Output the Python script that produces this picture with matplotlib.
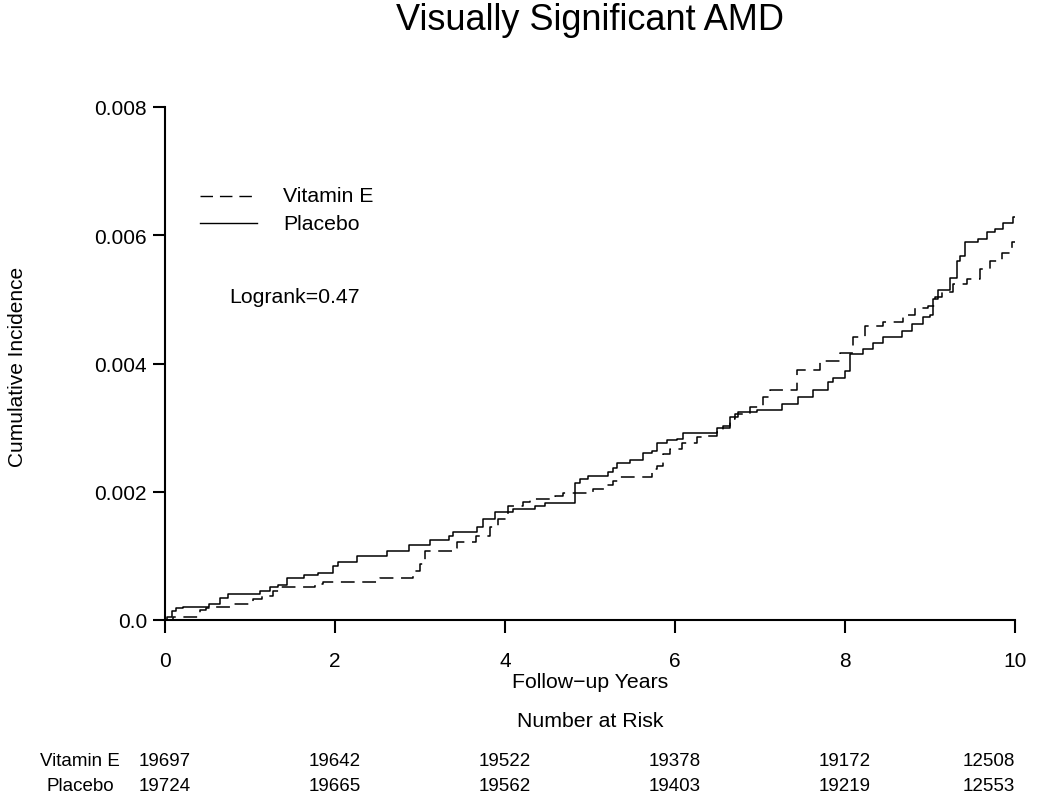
import matplotlib.pyplot as plt
import matplotlib.transforms as mtransforms

plt.rcParams['font.family'] = ['Liberation Sans', 'DejaVu Sans']

# step points (years, cumulative incidence)
placebo_t = [0, 0.02, 0.08, 0.13, 0.21, 0.52, 0.65, 0.74, 1.12, 1.24, 1.33, 1.44, 1.64, 1.80,
             1.98, 2.04, 2.26, 2.61, 2.87, 3.12, 3.34, 3.39, 3.67, 3.74, 3.88, 4.09, 4.35,
             4.47, 4.82, 4.88, 4.98, 5.21, 5.27, 5.32, 5.47, 5.62, 5.73, 5.79, 5.91, 6.02,
             6.09, 6.49, 6.65, 6.74, 6.96, 7.26, 7.45, 7.62, 7.80, 7.86, 8.00, 8.06, 8.21,
             8.33, 8.45, 8.67, 8.79, 8.92, 9.00, 9.04, 9.09, 9.24, 9.32, 9.35, 9.41, 9.56,
             9.67, 9.76, 9.86, 9.98, 10.0]
placebo_y = [0, 0.00004, 0.00014, 0.00019, 0.00021, 0.00025, 0.00034, 0.00041, 0.00045,
             0.00051, 0.00055, 0.00066, 0.00070, 0.00074, 0.00084, 0.00091, 0.00100, 0.00107,
             0.00117, 0.00124, 0.00131, 0.00138, 0.00145, 0.00158, 0.00168, 0.00173, 0.00178,
             0.00182, 0.00214, 0.00220, 0.00224, 0.00231, 0.00237, 0.00245, 0.00250, 0.00260,
             0.00264, 0.00276, 0.00280, 0.00283, 0.00292, 0.00300, 0.00316, 0.00324, 0.00327,
             0.00337, 0.00347, 0.00358, 0.00371, 0.00378, 0.00389, 0.00415, 0.00423, 0.00432,
             0.00441, 0.00451, 0.00462, 0.00472, 0.00475, 0.00501, 0.00515, 0.00534, 0.00560,
             0.00568, 0.00589, 0.00594, 0.00605, 0.00610, 0.00619, 0.00628, 0.00628]

vite_t = [0, 0.09, 0.41, 0.48, 0.55, 0.76, 1.04, 1.14, 1.27, 1.35, 1.76, 1.86, 2.53, 2.92,
          3.00, 3.06, 3.38, 3.44, 3.66, 3.82, 3.92, 4.04, 4.21, 4.29, 4.59, 4.68, 4.96, 5.04,
          5.18, 5.27, 5.33, 5.73, 5.79, 5.86, 5.94, 6.08, 6.26, 6.38, 6.49, 6.56, 6.65, 6.71,
          6.88, 7.04, 7.12, 7.44, 7.71, 7.94, 8.09, 8.24, 8.45, 8.68, 8.82, 8.98, 9.06, 9.14,
          9.27, 9.44, 9.59, 9.71, 9.85, 9.96, 10.0]
vite_y = [0, 0.00005, 0.00015, 0.00019, 0.00021, 0.00025, 0.00033, 0.00038, 0.00046, 0.00051,
          0.00056, 0.00060, 0.00066, 0.00076, 0.00087, 0.00107, 0.00113, 0.00121, 0.00131,
          0.00145, 0.00158, 0.00177, 0.00184, 0.00189, 0.00193, 0.00198, 0.00200, 0.00205,
          0.00211, 0.00217, 0.00223, 0.00235, 0.00240, 0.00259, 0.00266, 0.00276, 0.00285,
          0.00287, 0.00293, 0.00303, 0.00313, 0.00321, 0.00332, 0.00347, 0.00358, 0.00390,
          0.00404, 0.00417, 0.00441, 0.00458, 0.00464, 0.00475, 0.00486, 0.00490, 0.00503,
          0.00511, 0.00524, 0.00532, 0.00547, 0.00560, 0.00573, 0.00589, 0.00589]

risk_years = [0, 2, 4, 6, 8, 10]
risk_vite = [19697, 19642, 19522, 19378, 19172, 12508]
risk_placebo = [19724, 19665, 19562, 19403, 19219, 12553]

W, H = 1050, 804
fs = 15.3
fig = plt.figure(figsize=(10.5, 8.04), dpi=100)
ax = fig.add_axes([165 / W, 1 - 621 / H, 850 / W, 513 / H])

dash = (0, (9, 5))
ax.step(vite_t, vite_y, where='post', color='black', lw=1.1, linestyle=dash)
ax.step(placebo_t, placebo_y, where='post', color='black', lw=1.1)

ax.set_xlim(0, 10)
ax.set_ylim(0, 0.008)
ax.set_xticks([0, 2, 4, 6, 8, 10])
ax.set_yticks([0, 0.002, 0.004, 0.006, 0.008])
ax.set_yticklabels(['0.0', '0.002', '0.004', '0.006', '0.008'])
for s in ['top', 'right']:
    ax.spines[s].set_visible(False)
for s in ['left', 'bottom']:
    ax.spines[s].set_linewidth(1.5)
ax.tick_params(direction='out', length=9, width=1.5, labelsize=15, pad=4)
ax.tick_params(axis='x', pad=13)

ax.set_xlabel('Follow\u2212up Years', fontsize=fs, labelpad=2)
fig.text(18 / W, 1 - 367 / H, 'Cumulative Incidence', rotation=90, fontsize=15,
         ha='center', va='center')
fig.text(590 / W, 1 - 21 / H, 'Visually Significant AMD', fontsize=26,
         ha='center', va='center')

# legend drawn by hand, like the original
fig.lines.append(plt.Line2D([200 / W, 257 / W], [1 - 197 / H] * 2, transform=fig.transFigure,
                            color='black', lw=1.0, linestyle=dash))
fig.lines.append(plt.Line2D([200 / W, 257 / W], [1 - 224 / H] * 2, transform=fig.transFigure,
                            color='black', lw=1.0))
fig.text(283 / W, 1 - 197 / H, 'Vitamin E', fontsize=fs, va='center')
fig.text(283 / W, 1 - 224 / H, 'Placebo', fontsize=fs, va='center')
fig.text(229 / W, 1 - 298 / H, 'Logrank=0.47', fontsize=fs, va='center')

# number at risk table
trans = mtransforms.blended_transform_factory(ax.transData, fig.transFigure)
fig.text(590 / W, 1 - 722 / H, 'Number at Risk', fontsize=fs, ha='center', va='center')
fig.text(80 / W, 1 - 762 / H, 'Vitamin E', fontsize=13.5, ha='center', va='center')
fig.text(80 / W, 1 - 787 / H, 'Placebo', fontsize=13.5, ha='center', va='center')
for i, yr in enumerate(risk_years):
    ha = 'right' if i == len(risk_years) - 1 else 'center'
    ax.text(yr, 1 - 762 / H, str(risk_vite[i]), transform=trans, fontsize=13.5,
            ha=ha, va='center')
    ax.text(yr, 1 - 787 / H, str(risk_placebo[i]), transform=trans, fontsize=13.5,
            ha=ha, va='center')

fig.savefig('out.png', dpi=100)
